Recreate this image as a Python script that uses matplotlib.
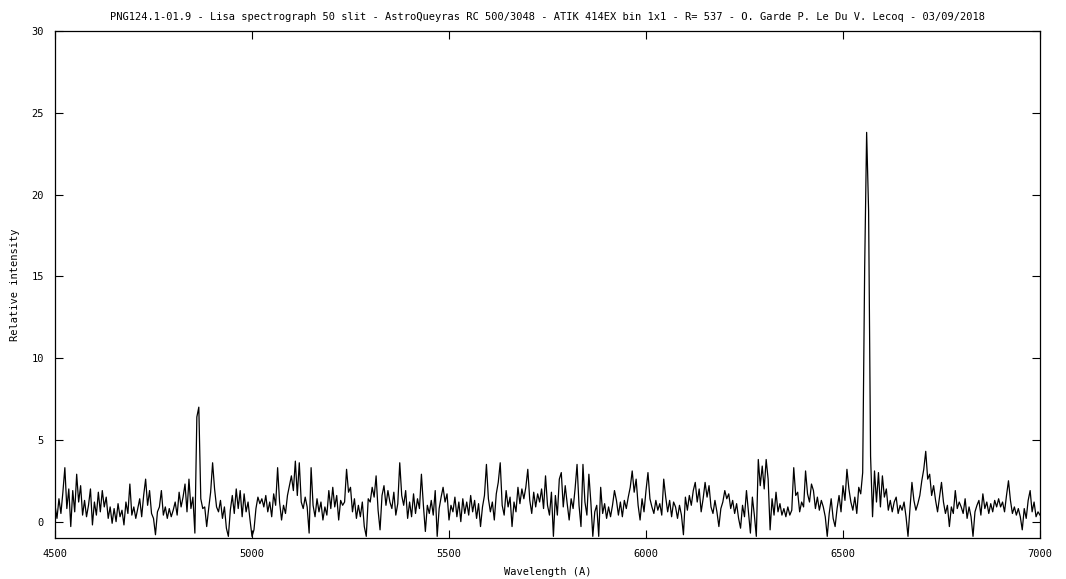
import numpy as np
import matplotlib
matplotlib.use("Agg")
import matplotlib.pyplot as plt

wl_start, wl_stop, wl_step = 4500, 7000, 5

intensity = [
    1.0, 0.2, 1.4, 0.5, 1.8, 3.3, 0.8, 2.0, -0.3, 1.9,     # 4500
    0.6, 2.9, 1.2, 2.2, 0.4, 1.3, 0.3, 1.0, 2.0, -0.2,     # 4550
    1.2, 0.4, 1.8, 0.6, 1.9, 0.9, 1.5, 0.2, 0.9, -0.1,     # 4600
    0.8, 0.0, 1.1, 0.3, 0.7, -0.2, 1.2, 0.5, 2.3, 0.4,     # 4650
    0.9, 0.2, 0.8, 1.4, 0.3, 1.6, 2.6, 1.0, 1.9, 0.5,      # 4700
    0.2, -0.8, 0.6, 0.9, 1.9, 0.4, 0.9, 0.2, 0.8, 0.3,     # 4750
    0.7, 1.2, 0.4, 1.8, 0.9, 1.5, 2.3, 0.6, 2.6, 0.8,      # 4800
    1.5, -0.7, 6.4, 7.0, 1.4, 0.8, 0.9, -0.3, 0.8, 1.8,    # 4850
    3.6, 2.0, 0.9, 0.6, 1.3, 0.2, 0.9, -0.4, -0.9, 0.7,    # 4900
    1.6, 0.5, 2.0, 0.8, 1.9, 0.3, 1.7, 0.6, 1.2, 0.1,      # 4950
    -0.9, -0.5, 0.8, 1.5, 1.1, 1.4, 0.9, 1.6, 0.6, 1.2,    # 5000
    0.3, 1.7, 1.0, 3.3, 1.2, 0.1, 1.0, 0.5, 1.6, 2.2,      # 5050
    2.8, 1.9, 3.7, 1.6, 3.6, 1.2, 0.8, 1.5, 0.9, -0.7,     # 5100
    3.3, 1.0, 0.3, 1.4, 0.6, 1.2, 0.1, 0.9, 0.4, 1.9,      # 5150
    0.8, 2.1, 0.9, 1.6, 0.1, 1.3, 1.0, 1.2, 3.2, 1.8,      # 5200
    2.1, 0.6, 1.4, 0.2, 1.0, 0.3, 1.2, -0.3, -0.9, 1.4,    # 5250
    1.2, 2.1, 1.5, 2.8, 0.7, -0.5, 1.6, 2.2, 1.0, 1.9,     # 5300
    1.2, 0.8, 1.8, 0.4, 1.1, 3.6, 1.6, 1.0, 1.9, 0.2,      # 5350
    1.2, 0.3, 1.7, 0.5, 1.4, 0.8, 2.9, 1.0, -0.6, 1.0,     # 5400
    0.5, 1.3, 0.4, 1.9, -0.9, 0.8, 1.5, 2.1, 1.2, 1.7,     # 5450
    0.1, 1.0, 0.6, 1.5, 0.3, 1.2, 0.0, 1.4, 0.5, 1.2,      # 5500
    0.4, 1.6, 0.6, 1.3, 0.2, 1.1, -0.3, 0.9, 1.6, 3.5,     # 5550
    1.4, 0.6, 1.2, 0.1, 1.7, 2.4, 3.6, 1.0, 0.4, 1.9,      # 5600
    0.9, 1.5, -0.3, 1.2, 0.6, 2.1, 1.1, 2.0, 1.4, 2.1,     # 5650
    3.2, 1.3, 0.5, 1.8, 0.9, 1.7, 1.2, 2.0, 0.8, 2.8,      # 5700
    1.0, 0.4, 1.8, -0.9, 1.6, 0.4, 2.6, 3.0, 0.9, 2.2,     # 5750
    1.1, 0.1, 1.4, 0.8, 2.0, 3.5, 1.0, -0.3, 3.5, 1.2,     # 5800
    0.4, 2.9, 1.2, -0.9, 0.6, 1.0, -0.9, 2.1, 0.5, 1.1,    # 5850
    0.2, 0.9, 0.3, 1.0, 1.9, 1.3, 0.4, 1.2, 0.3, 1.3,      # 5900
    0.8, 1.5, 2.1, 3.1, 1.8, 2.6, 1.0, 0.1, 1.4, 0.6,      # 5950
    1.9, 3.0, 1.4, 0.9, 0.5, 1.3, 0.7, 1.1, 0.4, 2.6,      # 6000
    1.5, 0.6, 1.3, 0.3, 1.2, 0.9, 0.2, 1.0, 0.4, -0.8,     # 6050
    1.5, 0.7, 1.6, 1.0, 1.9, 2.4, 1.2, 2.0, 0.6, 1.4,      # 6100
    2.4, 1.5, 2.2, 0.9, 0.5, 1.3, 0.6, -0.3, 0.8, 1.2,     # 6150
    1.9, 1.4, 1.7, 0.8, 1.3, 0.5, 1.1, 0.2, -0.4, 1.0,     # 6200
    0.3, 1.9, 0.6, -0.7, 1.5, 0.4, -0.9, 3.8, 2.2, 3.4,    # 6250
    2.0, 3.8, 2.6, -0.5, 1.4, 0.4, 1.8, 0.6, 1.1, 0.4,     # 6300
    0.8, 0.3, 0.9, 0.4, 0.7, 3.3, 1.6, 1.8, 0.6, 1.2,      # 6350
    0.9, 3.1, 1.7, 1.2, 2.3, 1.9, 0.8, 1.5, 0.7, 1.3,      # 6400
    0.9, 0.3, -0.9, 0.5, 1.4, 0.2, -0.3, 0.8, 1.6, 0.6,    # 6450
    2.2, 1.3, 3.2, 2.0, 1.2, 0.7, 1.5, 0.5, 2.1, 1.7,      # 6500
    3.0, 15.5, 23.8, 19.0, 4.0, 0.3, 3.1, 1.2, 3.0, 0.9,   # 6550
    2.8, 1.5, 2.0, 0.7, 1.3, 0.6, 1.2, 1.5, 0.5, 1.0,      # 6600
    0.7, 1.2, 0.3, -0.9, 0.8, 2.4, 1.3, 0.7, 1.1, 1.6,     # 6650
    2.5, 3.2, 4.3, 2.6, 2.9, 1.6, 2.2, 1.3, 0.6, 1.5,      # 6700
    2.4, 1.2, 0.5, 1.0, -0.3, 0.9, 0.5, 1.9, 0.8, 1.2,     # 6750
    0.9, 0.5, 1.4, 0.2, 0.9, 0.3, -0.9, 0.6, 1.0, 1.3,     # 6800
    0.4, 1.7, 0.8, 1.2, 0.5, 1.1, 0.6, 1.3, 0.9, 1.4,      # 6850
    0.9, 1.2, 0.6, 1.6, 2.5, 1.3, 0.5, 0.9, 0.4, 0.8,      # 6900
    0.3, -0.5, 0.8, 0.2, 1.3, 1.9, 0.6, 1.2, 0.3, 0.6,     # 6950
    0.4,                                                   # 7000
]
wavelength = np.arange(wl_start, wl_stop + 1, wl_step)

x_ticks = [4500, 5000, 5500, 6000, 6500, 7000]
y_ticks = [0, 5, 10, 15, 20, 25, 30]

title = ("PNG124.1-01.9 - Lisa spectrograph 50 slit - AstroQueyras RC 500/3048 - "
         "ATIK 414EX bin 1x1 - R= 537 - O. Garde P. Le Du V. Lecoq - 03/09/2018")

plt.rcParams['font.family'] = ['DejaVu Sans Mono']
plt.rcParams['font.size'] = 7.5

fig = plt.figure(figsize=(10.66, 5.79), dpi=100)
ax = fig.add_axes([0.0516, 0.0708, 0.924, 0.8757])

ax.plot(wavelength, intensity, color='black', lw=0.9)

ax.set_xlim(4500, 7000)
ax.set_ylim(-1, 30)
ax.set_xticks(x_ticks)
ax.set_yticks(y_ticks)
ax.tick_params(direction='in', top=True, right=True, length=6, width=0.8,
               labelsize=7.5, pad=8)
for s in ax.spines.values():
    s.set_linewidth(0.9)

ax.set_title(title, fontsize=7.5, pad=8)
ax.set_xlabel("Wavelength (A)", fontsize=7.5, labelpad=6)
ax.set_ylabel("Relative intensity", fontsize=7.5, labelpad=8)

fig.savefig("out.png", dpi=100)
